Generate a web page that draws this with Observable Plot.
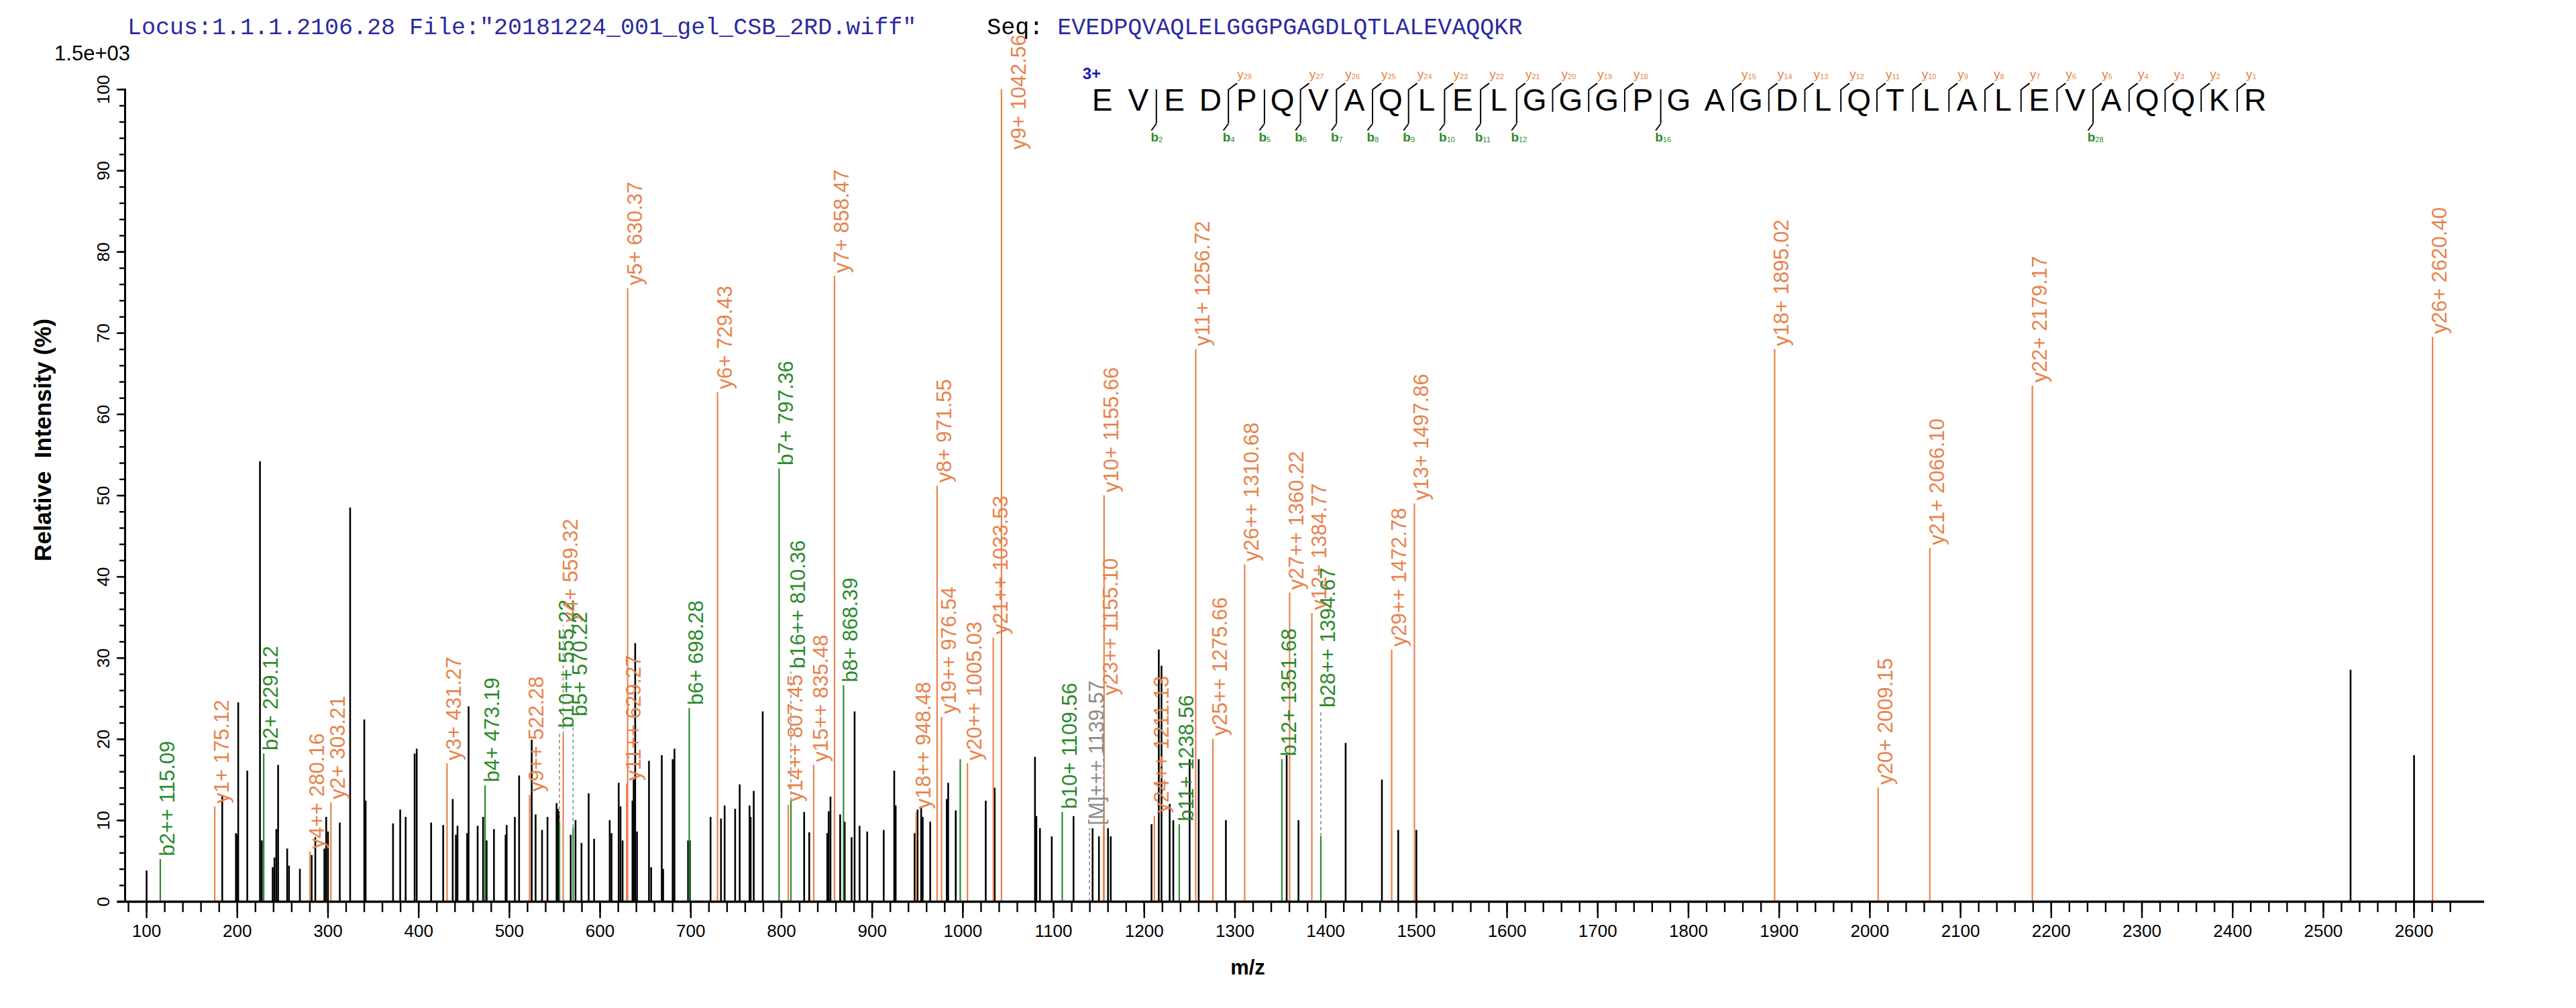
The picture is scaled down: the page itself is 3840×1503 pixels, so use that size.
<!DOCTYPE html>
<html><head><meta charset="utf-8">
<script src="https://cdn.jsdelivr.net/npm/d3@7"></script>
<script src="https://cdn.jsdelivr.net/npm/@observablehq/plot@0.6"></script>
<style>
body{margin:0;background:#fff;}
#wrap{position:relative;width:3840px;height:1503px;overflow:hidden;background:#fff;}
#wrap svg{position:absolute;overflow:visible;}
.hdr{position:absolute;white-space:pre;font-family:"Courier New","Liberation Mono",monospace;font-size:35px;line-height:1;}
.exp{position:absolute;font-family:"Liberation Sans",Arial,sans-serif;font-size:31px;line-height:1;}
</style></head><body><div id="wrap"></div>
<script>
// ---------------- data ----------------
const titleLocus = 'Locus:1.1.1.2106.28 File:"20181224_001_gel_CSB_2RD.wiff"';
const seqLabel = "Seq: ";
const peptide = "EVEDPQVAQLELGGGPGAGDLQTLALEVAQQKR";
const chargeLabel = "3+";
const scaleLabel = "1.5e+03";
const xTitle = "m/z";
const yTitle = "Relative\u00a0\u00a0Intensity (%)";

// unassigned (black) peaks
const blackMz  = [100,183.4,198.5,200,201,211,225,227,239,241,243,245,255,257,269,282,286,296,298,300,313,324.4,340,341.5,371.7,379.6,385.6,395.5,397.8,413.7,427,437.5,441,442.8,453.4,455,465,471,474.9,483,495.8,497,506,510.7,524.6,528.9,536,542,552,553.3,554.5,567.6,572.9,579.5,587.4,593.4,610.6,612.6,620.5,622.5,624.8,635.7,637,638.7,640.7,653.9,656.3,668,669.5,680,682,697,699,721.8,733.3,737.3,748.9,753.9,764.8,766,769.4,779.3,825,830.6,850.5,852,854,864.7,869.7,877.3,880.6,886.1,894.5,912.7,924.3,925.9,946.8,950,954,955.7,964,982.2,983.8,992.1,1025.2,1035,1079.5,1081,1085,1098,1122,1143,1150,1160,1163,1208,1216,1219,1228,1232,1250,1260,1290,1357,1370,1422,1462,1480,1500,2530,2600];
const blackInt = [3.8,13.1,8.4,8.2,24.5,16.1,54.2,7.5,4.2,5.4,8.9,16.8,6.5,4.4,4,5.7,7.9,6.5,10.4,8.6,9.7,48.5,22.4,12.4,9.6,11.3,10.4,18.2,18.8,9.7,9.4,12.6,8.2,9.3,8.4,24,9.3,10.4,7.5,8.9,8.2,9.4,10.4,15.5,19.9,10.7,8.8,10.4,12.1,11.4,11.1,8.2,10,7.2,13.3,7.7,10,8.4,14.6,11.7,7.5,12.4,15,31.8,8.6,17.3,4.2,18,4,17.5,18.8,7.5,7.5,10.4,10.2,11.8,11.4,14.4,11.8,10.4,13.6,23.4,11,8.5,8.4,11.1,12.9,10.7,9.8,7.9,23.4,9.3,8.6,8.8,16.1,11.8,8.4,11.3,11.7,10.4,9.8,12.6,14.6,11.2,12.4,14,17.8,10.5,9,8,10.5,9,8,9,8,9.5,31,29,12,10,17.5,17.5,10,18,10,19.5,15,8.8,8.8,28.5,18];

// unlabelled b-type peak
const greenMz  = [997.1];
const greenInt = [17.5];

// assigned fragment ions
const ionNames = ["b2++ 115.09","y1+ 175.12","b2+ 229.12","y4++ 280.16","y2+ 303.21","y3+ 431.27","b4+ 473.19","y9++ 522.28","b10++ 555.22","y4+ 559.32","b5+ 570.22","y11++ 629.27","y5+ 630.37","b6+ 698.28","y6+ 729.43","b7+ 797.36","y14++ 807.45","b16++ 810.36","y15++ 835.48","y7+ 858.47","b8+ 868.39","y18++ 948.48","y8+ 971.55","y19++ 976.54","y20++ 1005.03","y21++ 1033.53","y9+ 1042.56","b10+ 1109.56","[M]+++ 1139.57","y23++ 1155.10","y10+ 1155.66","y24++ 1211.13","b11+ 1238.56","y11+ 1256.72","y25++ 1275.66","y26++ 1310.68","b12+ 1351.68","y27++ 1360.22","y12+ 1384.77","b28++ 1394.67","y29++ 1472.78","y13+ 1497.86","y18+ 1895.02","y20+ 2009.15","y21+ 2066.10","y22+ 2179.17","y26+ 2620.40"];
const ionMz    = [115.09,175.12,229.12,280.16,303.21,431.27,473.19,522.28,555.22,559.32,570.22,629.27,630.37,698.28,729.43,797.36,807.45,810.36,835.48,858.47,868.39,948.48,971.55,976.54,1005.03,1033.53,1042.56,1109.56,1139.57,1155.10,1155.66,1211.13,1238.56,1256.72,1275.66,1310.68,1351.68,1360.22,1384.77,1394.67,1472.78,1497.86,1895.02,2009.15,2066.10,2179.17,2620.40];
const ionInt   = [5.2,11.7,18.2,6.1,12.2,17,14.3,13.1,9.8,20.5,9.1,14.5,75.5,23.8,62.7,53.3,11.9,12.4,16.8,77,26.6,11,51.2,22.7,17,32.5,100,11,8,9,50,10.5,9.5,68,20,41.5,17.5,38,35.5,8,31,49,68,14,43.5,63.5,69.5];
const ionKind  = ["b","y","b","y","y","y","b","y","b","y","b","y","y","b","y","b","y","b","y","y","b","y","y","y","y","y","y","b","M","y","y","y","b","y","y","y","b","y","y","b","y","y","y","y","y","y","y"];
// where a label was moved off its peak (null = on the peak)
const ionLabelAt = [null,null,null,null,null,null,null,null,21,34,22.4,null,null,null,null,null,null,28.3,null,null,null,null,null,null,null,null,92.6,null,9,25,null,null,null,null,null,null,null,null,null,23.5,null,null,null,null,null,null,null];

// axis ticks
const xMajor = [100,200,300,400,500,600,700,800,900,1000,1100,1200,1300,1400,1500,1600,1700,1800,1900,2000,2100,2200,2300,2400,2500,2600];
const xMinor = d3.range(80, 2641, 20);
const yMajor = [0,10,20,30,40,50,60,70,80,90,100];
const yMinor = d3.range(0, 101, 2);

// fragment map
const bCuts = [2,4,5,6,7,8,9,10,11,12,16,28];
const yIons = [29,27,26,25,24,23,22,21,20,19,18,15,14,13,12,11,10,9,8,7,6,5,4,3,2,1];

// ---------------- styles ----------------
const ORANGE = "#E8834C", GREEN = "#2C8A2C", GREY = "#8C8C8C", BLUE = "#2B2BA0";
const kindColor = k => k === "b" ? GREEN : k === "y" ? ORANGE : GREY;
const SANS = "'Liberation Sans', Arial, Helvetica, sans-serif";

const black = blackMz.map((mz, i) => ({mz, int: blackInt[i]}));
const greens = greenMz.map((mz, i) => ({mz, int: greenInt[i]}));
const ions = ionNames.map((name, i) => {
  const at = ionLabelAt[i] == null ? ionInt[i] : ionLabelAt[i];
  return {name, mz: ionMz[i], int: ionInt[i], kind: ionKind[i], at, lifted: at > ionInt[i] + 0.5, inside: at < ionInt[i] - 0.5};
});

const wrap = document.getElementById("wrap");

const main = Plot.plot({
  width: 3840, height: 1503,
  marginLeft: 186, marginRight: 137, marginTop: 133, marginBottom: 159,
  x: {domain: [76.3, 2677.6], axis: null, label: null},
  y: {domain: [0, 100], axis: null, label: null},
  style: {fontFamily: SANS, background: "white", color: "black"},
  marks: [
    Plot.ruleX(black, {x: "mz", y1: 0, y2: "int", stroke: "black", strokeWidth: 2.6}),
    Plot.ruleX(greens, {x: "mz", y1: 0, y2: "int", stroke: GREEN, strokeWidth: 2.2}),
    Plot.ruleX(ions.filter(d => d.kind !== "M"), {x: "mz", y1: 0, y2: "int", stroke: d => kindColor(d.kind), strokeWidth: 2.2}),
    Plot.ruleX(ions.filter(d => d.lifted), {x: "mz", y1: "int", y2: "at", stroke: GREY, strokeWidth: 1.6, strokeDasharray: "5,4"}),
    Plot.ruleX(ions.filter(d => d.kind === "M"), {x: "mz", y1: 0, y2: "int", stroke: GREY, strokeWidth: 1.6, strokeDasharray: "5,4"}),
    Plot.text(ions.filter(d => !d.inside), {x: "mz", y: "at", text: "name", rotate: -90, textAnchor: "start", lineAnchor: "top", dx: -1, dy: -5, fill: d => kindColor(d.kind), fontSize: 31}),
    Plot.text(ions.filter(d => d.inside), {x: "mz", y: "at", text: "name", rotate: -90, textAnchor: "start", lineAnchor: "top", dx: 14, dy: 0, fill: d => kindColor(d.kind), fontSize: 31}),
    // axes
    Plot.axisX({ticks: xMinor, tickSize: 16, tickFormat: () => "", label: null, strokeWidth: 2.4}),
    Plot.axisX({ticks: xMajor, tickSize: 25, tickPadding: 9, tickFormat: d => String(d), label: null, fontSize: 26, strokeWidth: 2.4}),
    Plot.axisY({ticks: yMinor, tickSize: 8, tickFormat: () => "", label: null, strokeWidth: 2.4}),
    Plot.axisY({ticks: yMajor, tickSize: 12, tickFormat: () => "", label: null, strokeWidth: 2.4}),
    Plot.text(yMajor, {y: d => d, text: d => String(d), frameAnchor: "left", rotate: -90, textAnchor: "middle", lineAnchor: "bottom", dx: -24, fontSize: 26}),
    Plot.ruleY([0], {x1: 68.2, x2: 2677.6, stroke: "black", strokeWidth: 3.5}),
    Plot.frame({anchor: "left", stroke: "black", strokeWidth: 3}),
    Plot.text([xTitle], {frameAnchor: "bottom", textAnchor: "middle", dx: -85, dy: 108, fontSize: 31, fontWeight: "bold"}),
    Plot.text([yTitle], {frameAnchor: "left", textAnchor: "middle", rotate: -90, dx: -122, dy: -83, fontSize: 35, fontWeight: "bold"})
  ]
});
main.style.left = "0px"; main.style.top = "0px";
wrap.appendChild(main);

// fragment map overlay
const residues = peptide.split("").map((aa, i) => ({aa, i: i + 1}));
const n = residues.length;
const cuts = d3.range(1, n).map(k => ({k, b: bCuts.includes(k), y: yIons.includes(n - k)})).filter(d => d.b || d.y);
const yLab = cuts.filter(d => d.y).map(d => ({x: d.k + 0.5, num: String(n - d.k)}));
const bLab = cuts.filter(d => d.b).map(d => ({x: d.k + 0.5, num: String(d.k)}));

const frag = Plot.plot({
  width: 1826, height: 240,
  marginLeft: 0, marginRight: 0, marginTop: 110, marginBottom: 38,
  x: {domain: [0, 34], axis: null},
  y: {domain: [-1.3, 1], axis: null},
  style: {fontFamily: SANS, background: "transparent"},
  marks: [
    Plot.text(residues, {x: "i", y: 0, text: "aa", fontSize: 46, fill: "black"}),
    Plot.ruleX(cuts, {x: d => d.k + 0.5, y1: d => d.b ? -0.85 : -0.42, y2: 0.42, stroke: "black", strokeWidth: 2}),
    Plot.link(cuts.filter(d => d.y), {x1: d => d.k + 0.5, y1: 0.42, x2: d => d.k + 0.74, y2: 0.66, stroke: "black", strokeWidth: 2}),
    Plot.link(cuts.filter(d => d.b), {x1: d => d.k + 0.5, y1: -0.85, x2: d => d.k + 0.36, y2: -1.1, stroke: "black", strokeWidth: 2}),
    Plot.text(yLab, {x: d => d.x + 0.42, y: 1, text: () => "y", textAnchor: "end", fill: ORANGE, fontSize: 19}),
    Plot.text(yLab, {x: d => d.x + 0.42, y: 1, text: "num", textAnchor: "start", dy: 4, fill: ORANGE, fontSize: 11}),
    Plot.text(bLab, {x: d => d.x + 0.06, y: -1.35, text: () => "b", textAnchor: "end", fill: GREEN, fontSize: 19, fontWeight: "bold"}),
    Plot.text(bLab, {x: d => d.x + 0.06, y: -1.35, text: "num", textAnchor: "start", dy: 4, fill: GREEN, fontSize: 11}),
    Plot.text([chargeLabel], {x: () => 0.45, y: 1, textAnchor: "start", fill: "#1C1CB0", fontWeight: "bold", fontSize: 24})
  ]
});
frag.style.left = "1589px"; frag.style.top = "0px";
wrap.appendChild(frag);

// header texts
const hdr = document.createElement("div");
hdr.className = "hdr";
hdr.style.left = "190px"; hdr.style.top = "25px";
hdr.innerHTML = `<span style="color:${BLUE}">${titleLocus.replace(/&/g,"&amp;")}</span>     <span style="color:#000">${seqLabel}</span><span style="color:${BLUE}">${peptide}</span>`;
wrap.appendChild(hdr);

const ex = document.createElement("div");
ex.className = "exp";
ex.style.right = (3840 - 194) + "px"; ex.style.top = "64px";
ex.textContent = scaleLabel;
wrap.appendChild(ex);
</script></body></html>
